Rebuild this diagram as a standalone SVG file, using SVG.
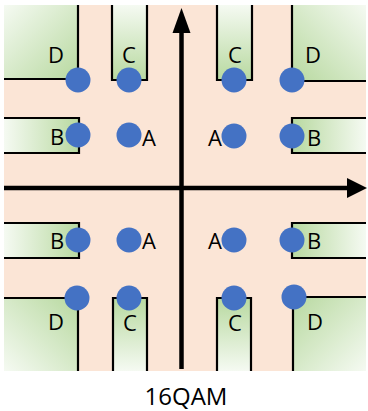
<svg xmlns="http://www.w3.org/2000/svg" width="368" height="411" viewBox="0 0 368 411">
<style>
.bx{stroke:none}
.ln{fill:none;stroke:#000;stroke-width:2.2}
.dot{fill:#4472c4}
.lb{font-family:"Open Sans","Liberation Sans",sans-serif;font-size:22px;fill:#000;text-anchor:middle}
.ax{stroke:#000;stroke-width:4.5;fill:none}
</style>
<defs>
<linearGradient id="gT" x1="0" y1="0" x2="0" y2="1"><stop offset="0" stop-color="#f5faf2"/><stop offset="1" stop-color="#b8d9a0"/></linearGradient>
<linearGradient id="gB" x1="0" y1="1" x2="0" y2="0"><stop offset="0" stop-color="#f5faf2"/><stop offset="1" stop-color="#b8d9a0"/></linearGradient>
<linearGradient id="gL" x1="0" y1="0" x2="1" y2="0"><stop offset="0" stop-color="#f5faf2"/><stop offset="1" stop-color="#b8d9a0"/></linearGradient>
<linearGradient id="gR" x1="1" y1="0" x2="0" y2="0"><stop offset="0" stop-color="#f5faf2"/><stop offset="1" stop-color="#b8d9a0"/></linearGradient>
<linearGradient id="gTL" x1="0" y1="0" x2="1" y2="1"><stop offset="0" stop-color="#f5faf2"/><stop offset="1" stop-color="#b8d9a0"/></linearGradient>
<linearGradient id="gTR" x1="1" y1="0" x2="0" y2="1"><stop offset="0" stop-color="#f5faf2"/><stop offset="1" stop-color="#b8d9a0"/></linearGradient>
<linearGradient id="gBL" x1="0" y1="1" x2="1" y2="0"><stop offset="0" stop-color="#f5faf2"/><stop offset="1" stop-color="#b8d9a0"/></linearGradient>
<linearGradient id="gBR" x1="1" y1="1" x2="0" y2="0"><stop offset="0" stop-color="#f5faf2"/><stop offset="1" stop-color="#b8d9a0"/></linearGradient>
</defs>
<rect x="4" y="5" width="362" height="366" fill="#fbe5d6"/>
<g id="regions">
<rect class="bx" x="4" y="5" width="74" height="74" fill="url(#gTL)"/>
<rect class="bx" x="112" y="5" width="35" height="75" fill="url(#gT)"/>
<rect class="bx" x="217" y="5" width="35" height="75" fill="url(#gT)"/>
<rect class="bx" x="292" y="5" width="74" height="75" fill="url(#gTR)"/>
<rect class="bx" x="4" y="118" width="75" height="35" fill="url(#gL)"/>
<rect class="bx" x="292" y="118" width="74" height="35" fill="url(#gR)"/>
<rect class="bx" x="4" y="223" width="75" height="35" fill="url(#gL)"/>
<rect class="bx" x="292" y="223" width="74" height="35" fill="url(#gR)"/>
<rect class="bx" x="4" y="298" width="74" height="73" fill="url(#gBL)"/>
<rect class="bx" x="113" y="298" width="34" height="73" fill="url(#gB)"/>
<rect class="bx" x="217" y="298" width="35" height="73" fill="url(#gB)"/>
<rect class="bx" x="293" y="297" width="73" height="74" fill="url(#gBR)"/>
<path class="ln" d="M78 5V79H4"/>
<path class="ln" d="M112 5V80H147V5"/>
<path class="ln" d="M217 5V80H252V5"/>
<path class="ln" d="M292 5V81H366"/>
<path class="ln" d="M4 118H79V153H4"/>
<path class="ln" d="M366 118H292V153H366"/>
<path class="ln" d="M4 223H79V258H4"/>
<path class="ln" d="M366 223H292V258H366"/>
<path class="ln" d="M4 298H78V371"/>
<path class="ln" d="M113 371V298H147V371"/>
<path class="ln" d="M217 371V298H251V371"/>
<path class="ln" d="M366 297H293V371"/>
</g>
<g id="connectors">
<line class="ax" x1="4" y1="188" x2="350" y2="188"/>
<polygon points="367,188 347,178 347,198" fill="#000"/>
<line class="ax" x1="181.5" y1="369" x2="181.5" y2="28"/>
<polygon points="181.5,8 172.5,33 190.5,33" fill="#000"/>
</g>
<g id="tl-D"><circle class="dot" cx="78" cy="80" r="12.5"/><text class="lb" x="56" y="63">D</text></g>
<g id="tl-C"><circle class="dot" cx="129" cy="80" r="12.5"/><text class="lb" x="129" y="63">C</text></g>
<g id="tr-C"><circle class="dot" cx="234" cy="80" r="12.5"/><text class="lb" x="235" y="63">C</text></g>
<g id="tr-D"><circle class="dot" cx="292" cy="80" r="12.5"/><text class="lb" x="313" y="63">D</text></g>
<g id="tl-B"><circle class="dot" cx="78" cy="135" r="12.5"/><text class="lb" x="57" y="145">B</text></g>
<g id="tl-A"><circle class="dot" cx="129" cy="135" r="12.5"/><text class="lb" x="149" y="146">A</text></g>
<g id="tr-A"><circle class="dot" cx="234" cy="136" r="12.5"/><text class="lb" x="215" y="146">A</text></g>
<g id="tr-B"><circle class="dot" cx="292" cy="136" r="12.5"/><text class="lb" x="314" y="146">B</text></g>
<g id="bl-B"><circle class="dot" cx="78" cy="240" r="12.5"/><text class="lb" x="57" y="249">B</text></g>
<g id="bl-A"><circle class="dot" cx="129" cy="240" r="12.5"/><text class="lb" x="149" y="249">A</text></g>
<g id="br-A"><circle class="dot" cx="234" cy="240" r="12.5"/><text class="lb" x="215" y="249">A</text></g>
<g id="br-B"><circle class="dot" cx="292" cy="240" r="12.5"/><text class="lb" x="314" y="249">B</text></g>
<g id="bl-D"><circle class="dot" cx="77" cy="298" r="12.5"/><text class="lb" x="56" y="330">D</text></g>
<g id="bl-C"><circle class="dot" cx="129" cy="298" r="12.5"/><text class="lb" x="130" y="331">C</text></g>
<g id="br-C"><circle class="dot" cx="234" cy="298" r="12.5"/><text class="lb" x="235" y="331">C</text></g>
<g id="br-D"><circle class="dot" cx="294" cy="297" r="12.5"/><text class="lb" x="315" y="330">D</text></g>
<text x="186" y="405" style="font-family:'Open Sans','Liberation Sans',sans-serif;font-size:24px;text-anchor:middle;fill:#000">16QAM</text>
</svg>
